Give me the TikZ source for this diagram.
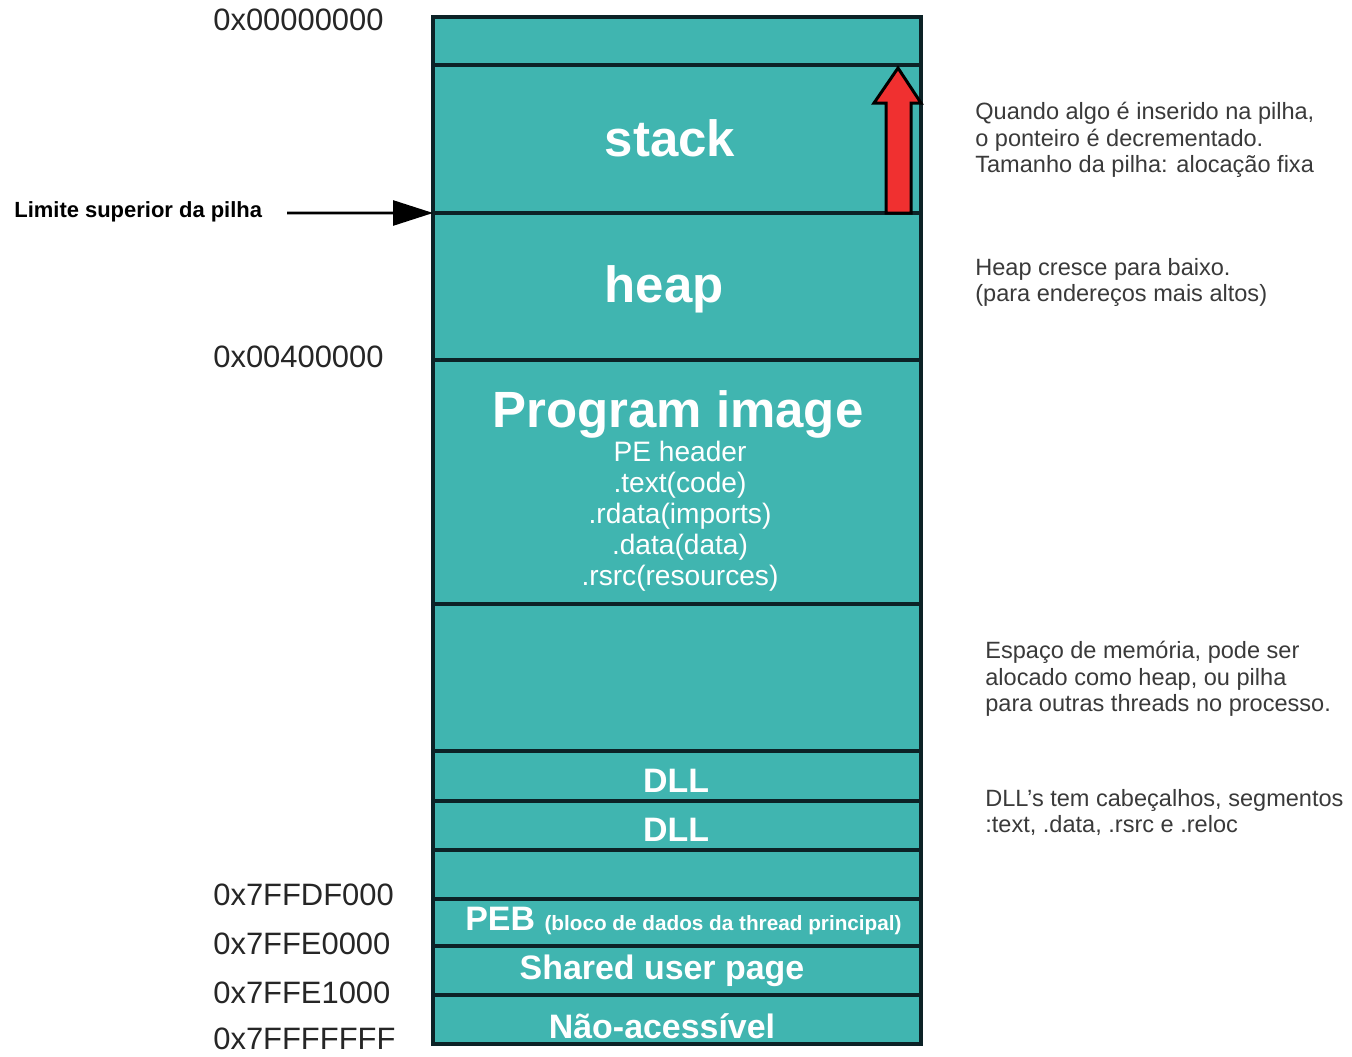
\documentclass[tikz,border=0pt]{standalone}
\usepackage{fontspec}
\setmainfont{Liberation Sans}
\usetikzlibrary{arrows.meta}
\definecolor{teal1}{RGB}{64,181,176}
\definecolor{border1}{RGB}{12,34,38}
\definecolor{note1}{RGB}{58,58,58}
\definecolor{red1}{RGB}{240,48,48}
\tikzset{
  seg/.style={draw=border1, line width=2pt, fill=teal1, minimum width=9.76cm, inner sep=0pt, outer sep=0pt},
  big/.style={text=white, font=\fontsize{29}{32}\selectfont\bfseries, inner sep=0pt},
  mid/.style={text=white, font=\fontsize{19.3}{22}\selectfont\bfseries, inner sep=0pt},
  sub/.style={text=white, font=\fontsize{16}{17.6}\selectfont, align=center, inner sep=0pt},
  addr/.style={text=black!85, font=\fontsize{17.6}{20}\selectfont, inner sep=0pt, anchor=base west},
  note/.style={text=note1, font=\fontsize{13.4}{15}\selectfont, align=left, inner sep=0pt, anchor=north west},
  redarrow/.style={draw=black, line width=1.7pt, fill=red1, line join=miter},
}
\begin{document}
\begin{tikzpicture}[x=0.02cm, y=-0.02cm]
\useasboundingbox[fill=white] (0,0) rectangle (1352,1056);

% memory segments
\node[seg, minimum height=0.96cm] (top)    at (677,41) {};
\node[seg, minimum height=2.96cm] (stack)  at (677,139) {};
\node[seg, minimum height=2.94cm] (heap)   at (677,286.5) {};
\node[seg, minimum height=4.88cm] (prog)   at (677,482) {};
\node[seg, minimum height=2.94cm] (free)   at (677,677.5) {};
\node[seg, minimum height=1.00cm] (dlla)   at (677,776) {};
\node[seg, minimum height=0.98cm] (dllb)   at (677,825.5) {};
\node[seg, minimum height=0.98cm] (blank)  at (677,874.5) {};
\node[seg, minimum height=0.94cm] (peb)    at (677,922.5) {};
\node[seg, minimum height=0.98cm] (shared) at (677,970.5) {};
\node[seg, minimum height=0.98cm] (na)     at (677,1019.5) {};

% labels in segments
\node[big, anchor=base] (tstack) at (670,156) {stack};
\node[big, anchor=base] (theap) at (664,302) {heap};
\node[big, anchor=base] (tprog) at (678,427) {Program image};
\node[sub, anchor=north] (tsub) at (680,441) {PE header\\.text(code)\\.rdata(imports)\\.data(data)\\.rsrc(resources)};
\node[mid, anchor=base] (tdlla) at (676,792) {DLL};
\node[mid, anchor=base] (tdllb) at (676,841) {DLL};
\node[mid, anchor=base west] (tpeb) at (465,930) {PEB {\fontsize{11.8}{14}\selectfont (bloco de dados da thread principal)}};
\node[mid, anchor=base] (tshared) at (662,979) {Shared user page};
\node[mid, anchor=base] (tna) at (662,1038) {Não-acessível};

% red arrow
\draw[redarrow] (886,213) -- (886,103) -- (874,103) -- (898,68) -- (921,103) -- (911,103) -- (911,213) -- cycle;

% addresses
\node[addr] (a0) at (213,30) {0x00000000};
\node[addr] (a1) at (213,367) {0x00400000};
\node[addr] (a2) at (213,905) {0x7FFDF000};
\node[addr] (a3) at (213,954) {0x7FFE0000};
\node[addr] (a4) at (213,1003) {0x7FFE1000};
\node[addr] (a5) at (213,1049) {0x7FFFFFFF};

% limit arrow
\node[font=\fontsize{12.5}{14}\selectfont\bfseries, inner sep=0pt, anchor=base west] (lim) at (14,217) {Limite superior da pilha};
\coordinate (limtip) at (stack.south west);
\draw[line width=1.5pt, -{Triangle[length=0.8cm, width=0.5cm]}] (287,213) -- (limtip);

% notes
\node[note] (n1) at (975,102) {Quando algo é inserido na pilha,\\o ponteiro é decrementado.\\Tamanho da pilha: alocação fixa};
\node[note] (n2) at (975,258) {Heap cresce para baixo.\\(para endereços mais altos)};
\node[note] (n3) at (985,641) {Espaço de memória, pode ser\\alocado como heap, ou pilha\\para outras threads no processo.};
\node[note] (n4) at (985,789) {DLL's tem cabeçalhos, segmentos\\:text, .data, .rsrc e .reloc};
\end{tikzpicture}
\end{document}
